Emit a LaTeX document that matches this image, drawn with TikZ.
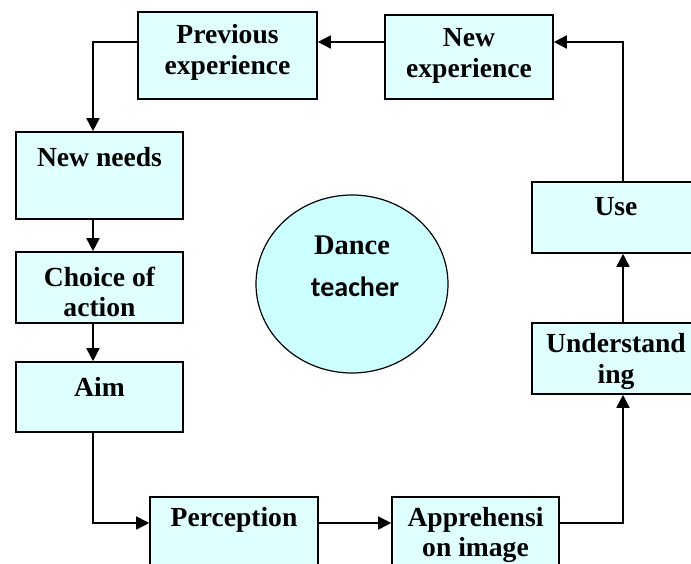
\documentclass[tikz,border=0pt]{standalone}
\usepackage{fontspec}
\setmainfont{Liberation Serif}
\newfontfamily\calibrifont{Carlito}
\usetikzlibrary{arrows.meta,shapes.geometric}
\definecolor{boxfill}{HTML}{E0FFFF}
\definecolor{circfill}{HTML}{CCFFFF}
\tikzset{
  box/.style={draw=black, fill=boxfill, line width=1.6pt, rectangle, inner sep=0pt},
  lbl/.style={font=\fontsize{27.6}{30.5}\selectfont\bfseries, align=center, inner sep=0pt},
  conn/.style={line width=1.7pt, -{Triangle[length=13pt,width=13pt]}},
}
\begin{document}
\begin{tikzpicture}[x=1pt,y=-1pt]
\useasboundingbox (0,0) rectangle (691,564);
\clip (0,0) rectangle (691,564);
% boxes
\node[box, minimum width=179pt, minimum height=87pt] (prev)   at (227.5,55.5) {};
\node[box, minimum width=168pt, minimum height=84pt] (newexp) at (469,57) {};
\node[box, minimum width=167pt, minimum height=87pt] (needs)  at (99.5,175.5) {};
\node[box, minimum width=167pt, minimum height=71pt] (choice) at (99.5,287.5) {};
\node[box, minimum width=167pt, minimum height=70pt] (aim)    at (99.5,397) {};
\node[box, minimum width=168pt, minimum height=83pt] (perc)   at (234,538.5) {};
\node[box, minimum width=167pt, minimum height=83pt] (appr)   at (475.5,538.5) {};
\node[box, minimum width=168pt, minimum height=71pt] (und)    at (616,358.5) {};
\node[box, minimum width=168pt, minimum height=71pt] (use)    at (616,217.5) {};
\node[ellipse, draw=black, fill=circfill, line width=1.2pt, minimum width=192pt, minimum height=178pt, inner sep=0pt] (circ) at (352,284) {};
% labels
\node[lbl] (prevt)   at (227.5,52.5) {Previous\\experience};
\node[lbl] (newexpt) at (469,56) {New\\experience};
\node[lbl] (needst)  at (99.5,157) {New needs};
\node[lbl] (choicet) at (99.5,292) {Choice of\\action};
\node[lbl] (aimt)    at (99.5,387) {Aim};
\node[lbl] (perct)   at (234,520) {Perception};
\node[lbl] (apprt)   at (475.5,535) {Apprehensi\\on image};
\node[lbl] (undt)    at (616,361.5) {Understand\\ing};
\node[lbl] (uset)    at (616,207) {Use};
\node[font=\fontsize{28.5}{30}\selectfont\bfseries, inner sep=0pt] (dance) at (352,245) {Dance};
\node[font=\calibrifont\fontsize{28}{30}\selectfont\bfseries, inner sep=0pt] (teacher) at (355,287) {teacher};
% guide coordinates
\coordinate (ytop) at (0,42);
\coordinate (xleft) at (93,0);
\coordinate (xright) at (623,0);
\coordinate (ybot) at (0,523);
% connectors
\draw[conn] (newexp.west |- ytop) -- (prev.east |- ytop);
\draw[conn] (prev.west |- ytop) -| (needs.north -| xleft);
\draw[conn] (needs.south -| xleft) -- (choice.north -| xleft);
\draw[conn] (choice.south -| xleft) -- (aim.north -| xleft);
\draw[conn] (aim.south -| xleft) |- (perc.west |- ybot);
\draw[conn] (perc.east |- ybot) -- (appr.west |- ybot);
\draw[conn] (appr.east |- ybot) -| (und.south -| xright);
\draw[conn] (und.north -| xright) -- (use.south -| xright);
\draw[conn] (use.north -| xright) |- (newexp.east |- ytop);
\end{tikzpicture}
\end{document}
